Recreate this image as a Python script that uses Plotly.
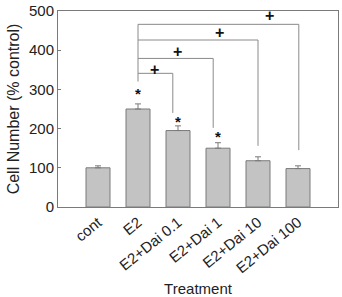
import plotly.graph_objects as go

categories = ["cont", "E2", "E2+Dai 0.1", "E2+Dai 1", "E2+Dai 10", "E2+Dai 100"]
values = [100, 250, 195, 150, 118, 98]
errors = [5, 13, 12, 14, 10, 7]
star_y = [None, 289, 219, 181, None, None]

# comparison brackets from E2 (x index 1)
bracket_top = [341, 379, 426, 466]
bracket_end_x = [1.87, 2.88, 4.0, 5.02]
bracket_end_y = [240, 202, 156, 145]
bracket_start_y = 320
plus_x = [1.41, 1.98, 3.03, 4.28]
plus_y = [352, 396, 444, 488]

xs = list(range(len(categories)))
line_col = "#8a8a8a"

fig = go.Figure()
fig.add_trace(go.Bar(
    x=xs, y=values, width=0.6,
    marker=dict(color="#c3c3c3", line=dict(color="#7a7a7a", width=1)),
    error_y=dict(type="data", array=errors, arrayminus=[0]*len(errors), symmetric=False,
                 color="#7a7a7a", thickness=1, width=3),
    showlegend=False, hoverinfo="skip",
))

# brackets
for top, ex, ey in zip(bracket_top, bracket_end_x, bracket_end_y):
    fig.add_trace(go.Scatter(
        x=[1, ex, ex], y=[top, top, ey], mode="lines",
        line=dict(color=line_col, width=1), showlegend=False, hoverinfo="skip"))
fig.add_trace(go.Scatter(
    x=[1, 1], y=[bracket_start_y, max(bracket_top)], mode="lines",
    line=dict(color=line_col, width=1), showlegend=False, hoverinfo="skip"))

annotations = []
for x, y in zip(xs, star_y):
    if y is not None:
        annotations.append(dict(x=x, y=y, text="<b>*</b>", showarrow=False,
                                font=dict(size=15, color="#111", family="Liberation Sans, Arial"),
                                xanchor="center", yanchor="middle"))
for x, y in zip(plus_x, plus_y):
    annotations.append(dict(x=x, y=y, text="<b>+</b>", showarrow=False,
                            font=dict(size=16, color="#111", family="Liberation Sans, Arial"),
                            xanchor="center", yanchor="middle"))

fig.update_layout(
    width=342, height=297,
    margin=dict(l=58, r=4, t=11, b=90),
    paper_bgcolor="white", plot_bgcolor="white",
    font=dict(family="Liberation Sans, Arial, sans-serif", color="#222", size=15),
    annotations=annotations,
    xaxis=dict(
        range=[-1, 6], tickmode="array", tickvals=xs, ticktext=categories,
        tickangle=-39, showline=True, linecolor="#7a7a7a", linewidth=1, mirror=True,
        ticks="", showgrid=False, zeroline=False, automargin=False,
        tickfont=dict(size=15),
        title=dict(text="Treatment", font=dict(size=15), standoff=9),
    ),
    yaxis=dict(
        range=[0, 500], tickvals=[0, 100, 200, 300, 400, 500],
        showline=True, linecolor="#7a7a7a", linewidth=1, mirror=True,
        ticks="inside", ticklen=3, tickcolor="#7a7a7a",
        showgrid=False, zeroline=False, automargin=False,
        tickfont=dict(size=15),
        title=dict(text="Cell Number (% control)", font=dict(size=16), standoff=5),
    ),
)

fig.write_html("out.html")
